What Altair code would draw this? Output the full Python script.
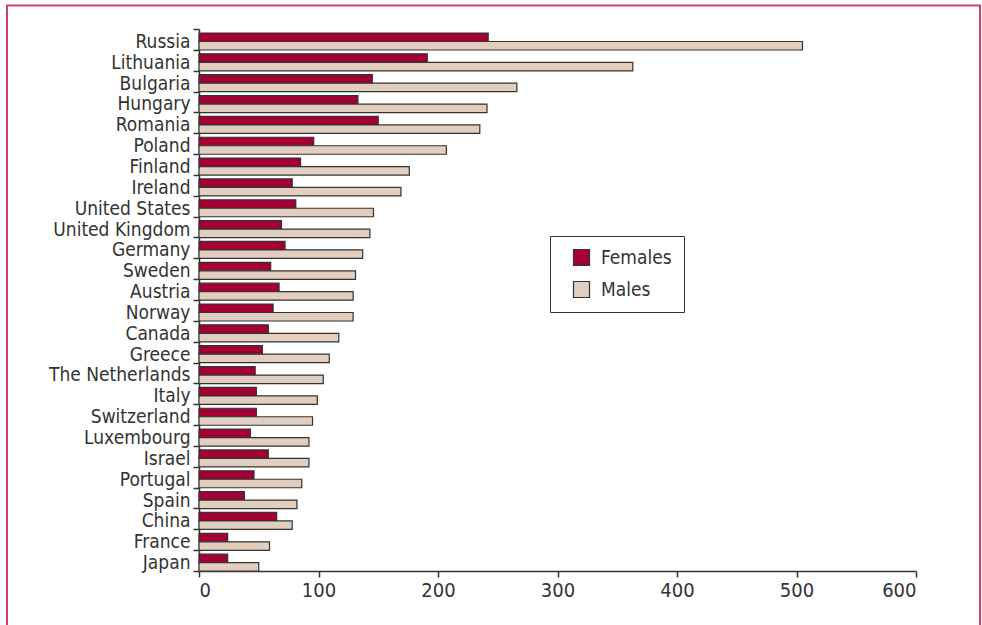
import altair as alt
import pandas as pd

# Rates per country, read top to bottom as plotted
countries = [
    "Russia", "Lithuania", "Bulgaria", "Hungary", "Romania", "Poland",
    "Finland", "Ireland", "United States", "United Kingdom", "Germany",
    "Sweden", "Austria", "Norway", "Canada", "Greece", "The Netherlands",
    "Italy", "Switzerland", "Luxembourg", "Israel", "Portugal", "Spain",
    "China", "France", "Japan",
]
females = [242, 191, 145, 133, 150, 96, 85, 78, 81, 69, 72, 60, 67, 62, 58,
           53, 47, 48, 48, 43, 58, 46, 38, 65, 24, 24]
males = [505, 363, 266, 241, 235, 207, 176, 169, 146, 143, 137, 131, 129, 129,
         117, 109, 104, 99, 95, 92, 92, 86, 82, 78, 59, 50]
sexes = ["Females", "Males"]
x_ticks = [0, 100, 200, 300, 400, 500, 600]

FONT = "DejaVu Sans Condensed, sans-serif"
INK = "#333333"
FEMALE = "#A50034"
MALE = "#E2CEBE"
FRAME = "#C8446E"

rows = []
for c, f, m in zip(countries, females, males):
    rows.append({"country": c, "sex": "Females", "rate": f})
    rows.append({"country": c, "sex": "Males", "rate": m})
df = pd.DataFrame(rows)

bars = alt.Chart(df).mark_bar(stroke=INK, strokeWidth=1.2).encode(
    x=alt.X(
        "rate:Q",
        scale=alt.Scale(domain=[0, 600], nice=False),
        axis=alt.Axis(
            values=x_ticks, title=None, grid=False, tickSize=6,
            labelFontSize=20, labelPadding=3, labelFont=FONT,
        ),
    ),
    y=alt.Y(
        "country:N",
        sort=countries,
        scale=alt.Scale(paddingInner=0, paddingOuter=0),
        axis=alt.Axis(
            title=None, tickBand="extent", tickSize=6, labelFontSize=19,
            labelPadding=3, labelFont=FONT, labelOffset=2,
        ),
    ),
    yOffset=alt.YOffset("sex:N", sort=sexes, scale=alt.Scale(range=[4, 21])),
    color=alt.Color(
        "sex:N",
        scale=alt.Scale(domain=sexes, range=[FEMALE, MALE]),
        legend=alt.Legend(
            title=None, orient="none", legendX=351, legendY=207,
            symbolType="square", symbolSize=256, symbolStrokeColor=INK,
            symbolStrokeWidth=1.2, labelFontSize=19, labelFont=FONT,
            labelColor=INK, padding=12, rowPadding=11, symbolOffset=10,
            labelOffset=10, strokeColor=INK, fillColor="white",
            labelExpr="datum.label + '\u00a0\u00a0'",
        ),
    ),
)

# Outer frame around the whole figure
frame = alt.Chart(pd.DataFrame({"k": [0]})).mark_rect(
    fillOpacity=0, stroke=FRAME, strokeWidth=2
).encode(
    x=alt.value(-192), x2=alt.value(781), y=alt.value(-23.5), y2=alt.value(640)
)

chart = alt.layer(frame, bars).properties(
    width=717,
    height=542,
    autosize="none",
    padding={"left": 199, "top": 29, "right": 66, "bottom": 54},
    background="white",
).configure_view(strokeWidth=0).configure_axis(
    domainColor=INK, domainWidth=1.5, tickColor=INK, tickWidth=1.5,
    labelColor=INK,
)

chart.save("out.html", embed_options={"renderer": "svg", "actions": False})
